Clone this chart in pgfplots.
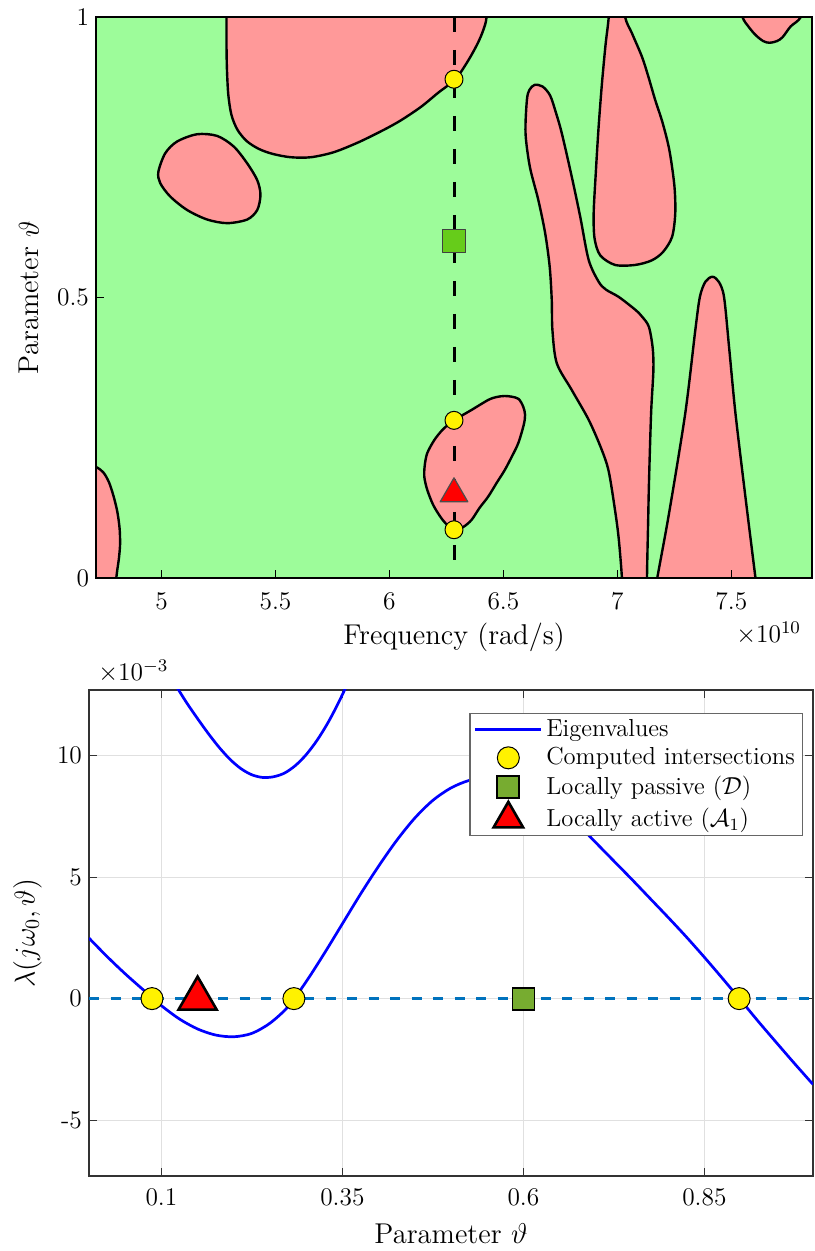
\RequirePackage{fix-cm}
\documentclass[border=0pt]{standalone}
\usepackage{pgfplots}
\pgfplotsset{compat=1.18}
\definecolor{bggreen}{RGB}{157,252,154}
\definecolor{blobred}{RGB}{255,153,153}
\definecolor{mblue}{RGB}{0,114,189}
\definecolor{olivegr}{RGB}{119,172,48}
\definecolor{sqgreen}{RGB}{102,204,26}

\pgfplotstableread{
t y
0.000 2.49
0.025 1.73
0.050 1.02
0.075 0.36
0.100 -0.29
0.125 -0.84
0.150 -1.25
0.175 -1.50
0.200 -1.57
0.225 -1.43
0.250 -1.01
0.275 -0.33
0.300 0.70
0.325 1.86
0.350 3.08
0.375 4.30
0.400 5.45
0.425 6.51
0.450 7.43
0.475 8.16
0.500 8.67
0.525 8.98
0.550 9.11
0.575 9.07
0.600 8.85
0.625 8.45
0.650 7.88
0.675 7.18
0.700 6.42
0.725 5.66
0.750 4.90
0.775 4.12
0.800 3.34
0.825 2.54
0.850 1.70
0.875 0.83
0.900 -0.06
0.925 -0.96
0.950 -1.83
0.975 -2.69
1.000 -3.53
}\curveone

\pgfplotstableread{
t y
0.120 12.88
0.135 12.17
0.150 11.52
0.165 10.90
0.180 10.33
0.195 9.84
0.210 9.46
0.225 9.21
0.240 9.10
0.255 9.13
0.270 9.28
0.285 9.59
0.300 10.04
0.315 10.63
0.330 11.35
0.345 12.20
0.360 13.15
}\curvetwo

\begin{document}
\begin{tikzpicture}
\useasboundingbox (0,0) rectangle (407pt,625.5pt);
% ---------------- top panel ----------------
\begin{axis}[
  name=top,
  at={(48pt,336.5pt)}, anchor=south west,
  scale only axis, width=358pt, height=280.5pt,
  xmin=4.7124, xmax=7.854, ymin=0, ymax=1,
  axis background/.style={fill=bggreen},
  axis on top,
  axis line style={line width=1pt, black},
  tick pos=left, tick align=inside, major tick length=4pt,
  tick style={black, line width=0.5pt},
  xtick={5,5.5,6,6.5,7,7.5}, ytick={0,0.5,1},
  tick label style={font=\fontsize{12.7}{15}\selectfont},
  xticklabel style={yshift=-4pt},
  label style={font=\fontsize{14.3}{17}\selectfont},
  xlabel={Frequency (rad/s)}, ylabel={Parameter $\vartheta$},
  xlabel style={at={(axis description cs:0.5,-0.106)}, anchor=center},
  ylabel style={at={(axis description cs:-0.0936,0.5)}, anchor=center},
  every axis plot/.append style={line join=round},
]
% blob A
\addplot[fill=blobred, draw=black, line width=1.2pt, smooth] coordinates {
(5.285,1.06) (5.285,1.0) (5.285,0.950) (5.287,0.906) (5.293,0.861) (5.307,0.825) (5.333,0.799) (5.373,0.779) (5.426,0.765) (5.487,0.756) (5.567,0.750) (5.655,0.750) (5.756,0.759) (5.866,0.777) (5.976,0.799) (6.051,0.816) (6.139,0.840) (6.214,0.865) (6.289,0.889) (6.342,0.920) (6.386,0.952) (6.412,0.977) (6.426,1.0) (6.432,1.06)} -- cycle;
% blob B
\addplot[fill=blobred, draw=black, line width=1.2pt, smooth cycle] coordinates {
(4.986,0.724) (5.016,0.757) (5.068,0.778) (5.156,0.791) (5.244,0.788) (5.317,0.769) (5.376,0.739) (5.420,0.709) (5.434,0.683) (5.420,0.656) (5.376,0.639) (5.288,0.6325) (5.200,0.639) (5.112,0.656) (5.038,0.680) (4.994,0.704)};
% blob C
\addplot[fill=blobred, draw=black, line width=1.2pt, smooth] coordinates {
(4.64,0.21) (4.712,0.198) (4.745,0.188) (4.770,0.170) (4.790,0.145) (4.806,0.118) (4.816,0.088) (4.818,0.060) (4.813,0.035) (4.805,0.012) (4.799,-0.01) (4.792,-0.05) (4.64,-0.05)} -- cycle;
% blob D
\addplot[fill=blobred, draw=black, line width=1.2pt, smooth cycle] coordinates {
(6.505,0.3244) (6.536,0.3232) (6.567,0.3191) (6.587,0.3053) (6.595,0.2906) (6.589,0.2727) (6.565,0.2401) (6.536,0.2157) (6.506,0.1925) (6.470,0.1693) (6.433,0.1449) (6.395,0.1248) (6.360,0.1034) (6.324,0.0909) (6.289,0.0856) (6.258,0.0927) (6.227,0.1070) (6.192,0.1301) (6.166,0.1569) (6.153,0.1800) (6.155,0.2014) (6.166,0.2228) (6.197,0.2460) (6.232,0.2638) (6.267,0.2763) (6.307,0.2870) (6.360,0.2995) (6.433,0.3173) (6.470,0.3226)};
% blob E
\addplot[fill=blobred, draw=black, line width=1.2pt, smooth] coordinates {
(7.132,-0.06) (7.130,0.0) (7.135,0.10) (7.139,0.175) (7.148,0.294) (7.158,0.370) (7.155,0.410) (7.138,0.448) (7.108,0.466) (7.079,0.478) (7.006,0.501) (6.950,0.514) (6.918,0.528) (6.874,0.567) (6.837,0.644) (6.800,0.715) (6.756,0.793) (6.730,0.830) (6.705,0.860) (6.672,0.876) (6.637,0.879) (6.614,0.870) (6.603,0.852) (6.597,0.793) (6.616,0.733) (6.653,0.674) (6.683,0.615) (6.703,0.555) (6.712,0.496) (6.715,0.442) (6.734,0.383) (6.800,0.335) (6.874,0.282) (6.930,0.230) (6.962,0.190) (6.990,0.120) (7.006,0.070) (7.020,0.0) (7.025,-0.06)} -- cycle;
% blob F
\addplot[fill=blobred, draw=black, line width=1.2pt, smooth] coordinates {
(7.15,-0.06) (7.175,0) (7.227,0.116) (7.298,0.294) (7.342,0.442) (7.362,0.501) (7.386,0.528) (7.417,0.537) (7.445,0.528) (7.468,0.501) (7.490,0.412) (7.518,0.294) (7.562,0.144) (7.606,0) (7.625,-0.06)} -- cycle;
% blob G
\addplot[fill=blobred, draw=black, line width=1.2pt, smooth] coordinates {
(6.968,1.06) (6.962,1.0) (6.948,0.950) (6.932,0.880) (6.917,0.800) (6.905,0.720) (6.896,0.650) (6.900,0.605) (6.925,0.575) (6.990,0.558) (7.078,0.558) (7.150,0.566) (7.200,0.581) (7.240,0.608) (7.254,0.650) (7.250,0.700) (7.228,0.763) (7.198,0.812) (7.166,0.852) (7.135,0.895) (7.108,0.929) (7.064,0.971) (7.034,1.0) (7.02,1.06)} -- cycle;
% blob H
\addplot[fill=blobred, draw=black, line width=1.2pt, smooth] coordinates {
(7.53,1.04) (7.549,1.0) (7.575,0.983) (7.606,0.968) (7.640,0.957) (7.668,0.954) (7.700,0.957) (7.725,0.964) (7.760,0.983) (7.805,1.0) (7.83,1.04)} -- cycle;
% dashed line
\addplot[black, line width=1.5pt, dash pattern=on 7.5pt off 9pt] coordinates {(6.2832,1) (6.2832,0)};
% markers
\addplot[only marks, mark=*, mark size=4.5pt, mark options={fill=yellow, draw=black, line width=0.5pt}] coordinates {(6.2832,0.889) (6.2832,0.281) (6.2832,0.086)};
\addplot[only marks, mark=square*, mark size=5.75pt, mark options={fill=sqgreen, draw=black!75, line width=0.6pt}] coordinates {(6.2832,0.6)};
\addplot[only marks, mark=triangle*, mark size=8pt, mark options={fill=red, draw=black!70, line width=0.6pt}] coordinates {(6.2832,0.15)};
\end{axis}
\node[anchor=east, font=\fontsize{12.7}{15}\selectfont, xshift=-2pt, yshift=-27.5pt] at (top.south east) {$\times10^{10}$};

% ---------------- bottom panel ----------------
\begin{axis}[
  name=bot,
  at={(44.5pt,37.5pt)}, anchor=south west,
  scale only axis, width=362pt, height=243pt,
  xmin=0, xmax=1, ymin=-7.3, ymax=12.7,
  xtick={0.1,0.35,0.6,0.85}, ytick={-5,0,5,10}, yticklabels={-5,0,5,10},
  grid=major, grid style={color=black!12, line width=0.6pt},
  axis line style={color=black!80, line width=0.6pt},
  tick align=inside, major tick length=4pt, tick pos=both,
  tick style={black!80, line width=0.6pt},
  tick label style={font=\fontsize{12.7}{15}\selectfont},
  xticklabel style={yshift=-3pt},
  label style={font=\fontsize{14.3}{17}\selectfont},
  xlabel={Parameter $\vartheta$}, ylabel={$\lambda(j\omega_0,\vartheta)$},
  xlabel style={at={(axis description cs:0.5,-0.119)}, anchor=center},
  ylabel style={at={(axis description cs:-0.085,0.5)}, anchor=center},
  legend style={at={(1,1)}, anchor=north east, xshift=-5pt, yshift=-11.5pt,
    draw=black!60, fill=white, line width=0.6pt,
    font=\fontsize{12.3}{14.5}\selectfont, inner xsep=2pt, inner ysep=1.2pt,
    nodes={inner sep=1.8pt}, row sep=0.4pt},
  legend cell align=left,
  legend image code/.code={\draw[mark repeat=2,mark phase=2,#1] plot coordinates {(0pt,0pt) (16.5pt,0pt) (33pt,0pt)};},
]
\addplot[mblue, line width=1.65pt, dash pattern=on 5pt off 5.75pt, forget plot] coordinates {(0,0) (1,0)};
\addplot[blue, line width=1.35pt, smooth] table {\curveone};
\addlegendentry{Eigenvalues}
\addplot[blue, line width=1.35pt, smooth, forget plot] table {\curvetwo};
\addplot[only marks, mark=*, mark size=5.5pt, mark options={fill=yellow, draw=black, line width=0.5pt}] coordinates {(0.087,0) (0.283,0) (0.898,0)};
\addlegendentry{Computed intersections}
\addplot[only marks, mark=square*, mark size=5.5pt, mark options={fill=olivegr, draw=black, line width=0.9pt}] coordinates {(0.6,0)};
\addlegendentry{Locally passive ($\mathcal{D}$)}
\addplot[only marks, mark=triangle*, mark size=11pt, mark options={fill=red, draw=black, line width=1.3pt}, legend image post style={mark size=8.5pt}] coordinates {(0.15,0)};
\addlegendentry{Locally active ($\mathcal{A}_1$)}
\end{axis}
\node[anchor=west, font=\fontsize{12.7}{15}\selectfont, xshift=1.2pt, yshift=9.2pt] at (bot.north west) {$\times10^{-3}$};
\end{tikzpicture}
\end{document}
